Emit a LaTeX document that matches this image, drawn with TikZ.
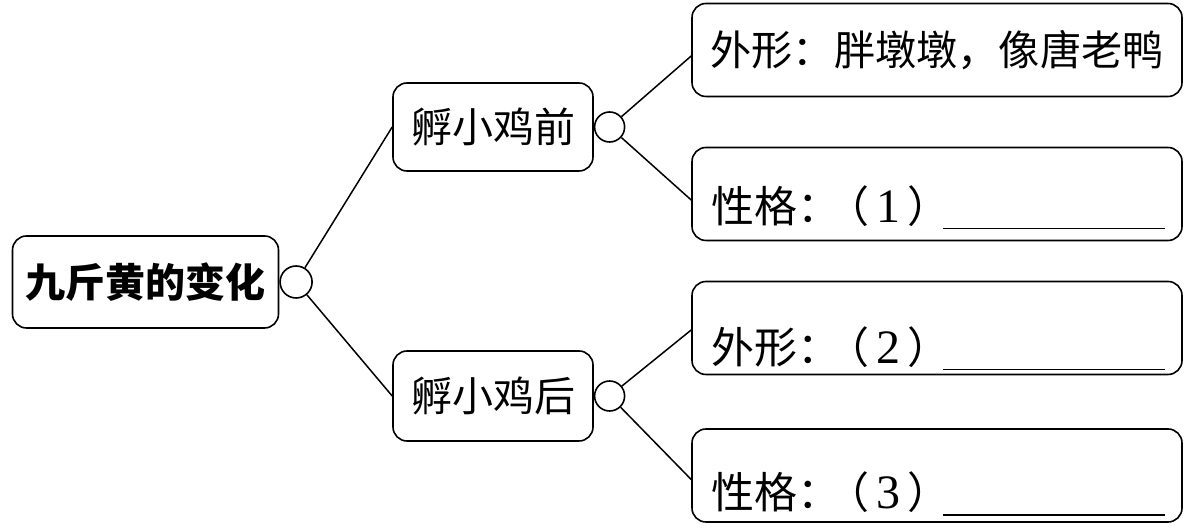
\documentclass[tikz,border=0pt]{standalone}
\usepackage{fontspec}
\setmainfont{Liberation Serif}
\newfontfamily\cjk{Noto Sans CJK SC}
\usetikzlibrary{positioning}
\newcommand{\dg}[1]{\hspace{-7pt}（\,{\rmfamily\fontsize{24}{26}\selectfont#1}\,）}
\newcommand{\blank}{\hspace{-4pt}\rule[-3.5pt]{111pt}{0.8pt}}
\tikzset{node distance=0pt, % circles sit right against their boxes
  every node/.style={align=center, inner sep=0pt},
         box/.style={ % the rounded boxes
           draw, line width=0.8pt, rounded corners=7pt, fill=white},
         leaf/.style={ % the four boxes on the right
           box, minimum width=245pt, minimum height=46.5pt},
         knot/.style={ % small circle after a box
           circle, draw, line width=0.8pt, fill=white},
         entry/.style={anchor=base west, font=\cjk\fontsize{21.5}{26}\selectfont},
         link/.style={line width=0.75pt}}

\begin{document}
\begin{tikzpicture}[x=0.5pt, y=-0.5pt]
  \useasboundingbox (0,0) rectangle (1201,528);

  \node [box, minimum width=133pt, minimum height=46pt,
    font=\cjk\bfseries\fontsize{20}{24}\selectfont] (root) at (145.5,282) {九斤黄的变化};
  \node [knot, minimum size=16pt, right=of root] (rootc) {};

  \node [box, minimum width=100pt, minimum height=44pt,
    font=\cjk\fontsize{20.5}{24}\selectfont] (before) at (493,127) {孵小鸡前};
  \node [knot, minimum size=15pt, right=of before] (beforec) {};
  \node [box, minimum width=100pt, minimum height=45pt,
    font=\cjk\fontsize{20.5}{24}\selectfont] (after) at (493,396) {孵小鸡后};
  \node [knot, minimum size=15pt, right=of after] (afterc) {};

  \node [leaf, font=\cjk\fontsize{20.6}{26}\selectfont] (look1) at (937,50) {外形：胖墩墩，像唐老鸭};
  \node [leaf] (mood1) at (937,194) {};
  \node [leaf] (look2) at (937,328) {};
  \node [leaf] (mood2) at (937,475.5) {};

  \node [entry] at ([xshift=10pt, yshift=9.5pt]mood1.south west) {性格：\dg{1}\blank};
  \node [entry] at ([xshift=10pt, yshift=6pt]look2.south west) {外形：\dg{2}\blank};
  \node [entry] at ([xshift=10pt, yshift=7pt]mood2.south west) {性格：\dg{3}\blank};

  \draw [link] (rootc) -- (before.west);
  \draw [link] (rootc) -- (after.west);
  \draw [link] (beforec) -- ([yshift=-3pt]look1.west);
  \draw [link] (beforec) -- ([yshift=-3pt]mood1.west);
  \draw [link] (afterc) -- ([yshift=-1pt]look2.west);
  \draw [link] (afterc) -- ([yshift=-2pt]mood2.west);
\end{tikzpicture}
\end{document}
